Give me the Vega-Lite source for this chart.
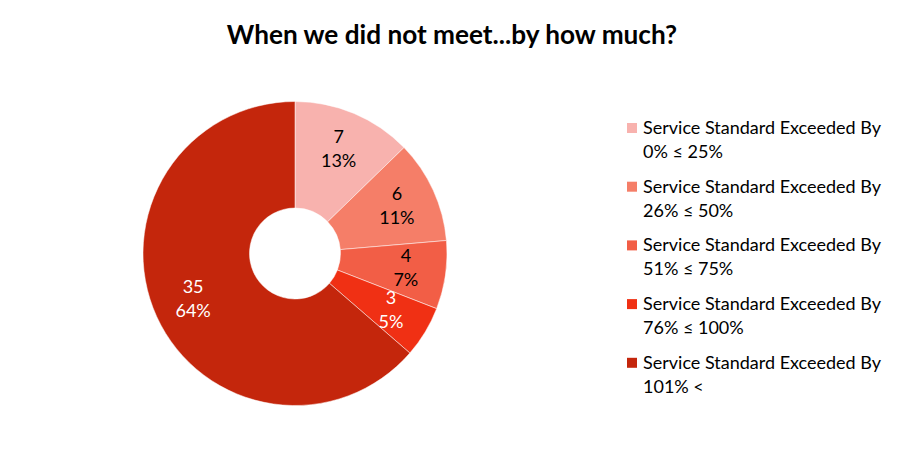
{
  "$schema": "https://vega.github.io/schema/vega-lite/v6.json",
  "width": 590,
  "height": 395,
  "autosize": {"type": "none"},
  "padding": {"left": 0, "top": 56, "right": 314, "bottom": 1},
  "background": "white",
  "title": {
    "text": "When we did not meet...by how much?",
    "font": "Lato",
    "fontSize": 26.2,
    "fontWeight": "bold",
    "color": "#000000",
    "anchor": "middle",
    "dx": 157,
    "offset": 7
  },
  "data": {
    "values": [
      {"range": "0% ≤ 25%", "count": 7, "label": "7\n13%", "o": 1},
      {"range": "26% ≤ 50%", "count": 6, "label": "6\n11%", "o": 2},
      {"range": "51% ≤ 75%", "count": 4, "label": "4\n7%", "o": 3},
      {"range": "76% ≤ 100%", "count": 3, "label": "3\n5%", "o": 4},
      {"range": "101% <", "count": 35, "label": "35\n64%", "o": 5}
    ]
  },
  "layer": [
    {
      "mark": {"type": "arc", "outerRadius": 152, "innerRadius": 45.5, "stroke": "#ffffff", "strokeWidth": 0.5},
      "encoding": {
        "theta": {"field": "count", "type": "quantitative", "stack": true},
        "order": {"field": "o", "type": "quantitative"},
        "color": {
          "field": "range",
          "type": "nominal",
          "scale": {
            "domain": ["0% ≤ 25%", "26% ≤ 50%", "51% ≤ 75%", "76% ≤ 100%", "101% <"],
            "range": ["#F8B2AE", "#F57E68", "#F25E46", "#F03014", "#C4260C"]
          },
          "legend": {
            "orient": "none",
            "legendX": 623,
            "legendY": 63,
            "title": null,
            "padding": 0,
            "symbolType": "square",
            "symbolSize": 100,
            "symbolStrokeWidth": 0,
            "labelFont": "Lato",
            "labelFontSize": 18,
            "labelColor": "#000000",
            "labelBaseline": "alphabetic",
            "labelLimit": 0,
            "labelOffset": 2,
            "rowPadding": 15.7,
            "labelExpr": "['Service Standard Exceeded By', datum.label]"
          }
        }
      }
    },
    {
      "mark": {"type": "text", "radius": 112, "font": "Lato", "fontSize": 18, "lineBreak": "\n", "lineHeight": 24, "baseline": "middle", "dy": -12},
      "encoding": {
        "theta": {"field": "count", "type": "quantitative", "stack": true},
        "order": {"field": "o", "type": "quantitative"},
        "text": {"field": "label"},
        "color": {
          "condition": {"test": "datum.range == '76% ≤ 100%' || datum.range == '101% <'", "value": "#ffffff"},
          "value": "#000000"
        }
      }
    }
  ],
  "config": {
    "view": {"stroke": null},
    "style": {"guide-label": {"lineHeight": 24, "dy": 6}}
  }
}
